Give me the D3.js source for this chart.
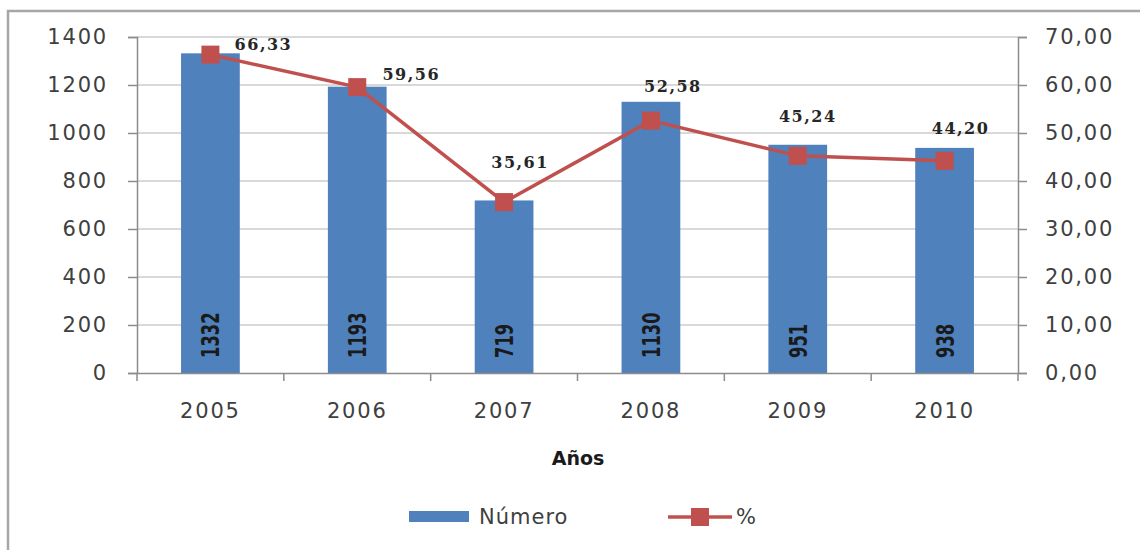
<!DOCTYPE html>
<html><head><meta charset="utf-8">
<script src="https://cdn.jsdelivr.net/npm/d3@7"></script>
<style>body{margin:0;background:#fff}svg{display:block}</style>
</head><body>
<svg id="c" width="1140" height="550"></svg>
<script>
const years = ["2005","2006","2007","2008","2009","2010"];
const numero = [1332, 1193, 719, 1130, 951, 938];
const pct = [66.33, 59.56, 35.61, 52.58, 45.24, 44.20];
const leftTicks = [0,200,400,600,800,1000,1200,1400];
const rightTicks = [0,10,20,30,40,50,60,70];
const pctLabelOffsets = [[53,-10],[54,-13],[16,-40],[22,-34],[10,-39],[16,-32]];

const svg = d3.select("#c");
const W=1140,H=550;
const m={l:137,r:1018,t:37,b:373};
const x = d3.scaleBand().domain(years).range([m.l,m.r]).paddingInner(0.6).paddingOuter(0.3);
const xc = d3.scaleBand().domain(years).range([m.l,m.r]);
const yL = d3.scaleLinear().domain([0,1400]).range([m.b,m.t]);
const yR = d3.scaleLinear().domain([0,70]).range([m.b,m.t]);
const fmt = v => d3.format(".2f")(v).replace(".",",");

svg.append("rect").attr("x",8).attr("y",11).attr("width",W+20).attr("height",H+20)
  .attr("fill","#fff").attr("stroke","#a6a6a6").attr("stroke-width",2.5);

// gridlines
svg.append("g").selectAll("line").data(leftTicks.filter(d=>d>0)).join("line")
  .attr("x1",m.l).attr("x2",m.r).attr("y1",d=>yL(d)).attr("y2",d=>yL(d))
  .attr("stroke","#d9d9d9").attr("stroke-width",2);

// left axis
const gl = svg.append("g").attr("transform",`translate(${m.l},0)`)
  .call(d3.axisLeft(yL).tickValues(leftTicks).tickSize(9).tickPadding(20).tickFormat(d3.format("d")));
gl.select(".domain").attr("stroke","#8c8c8c").attr("stroke-width",1.5);
gl.selectAll(".tick line").attr("stroke","#8c8c8c").attr("stroke-width",1.5);
gl.selectAll("text").attr("font-family","DejaVu Sans").attr("font-size",21).attr("letter-spacing","1.8px").attr("fill","#404040");

// right axis
const gr = svg.append("g").attr("transform",`translate(${m.r},0)`)
  .call(d3.axisRight(yR).tickValues(rightTicks).tickSize(9).tickPadding(18).tickFormat(fmt));
gr.select(".domain").attr("stroke","#8c8c8c").attr("stroke-width",1.5);
gr.selectAll(".tick line").attr("stroke","#8c8c8c").attr("stroke-width",1.5);
gr.selectAll("text").attr("font-family","DejaVu Sans").attr("font-size",21).attr("letter-spacing","1.8px").attr("fill","#404040");

// bars
svg.append("g").selectAll("rect").data(years).join("rect")
  .attr("x",d=>x(d)).attr("width",x.bandwidth())
  .attr("y",(d,i)=>yL(numero[i])).attr("height",(d,i)=>yL(0)-yL(numero[i]))
  .attr("fill","#4f81bd");

// bottom axis
const gb = svg.append("g").attr("transform",`translate(0,${m.b})`)
  .call(d3.axisBottom(xc).tickSize(0).tickPadding(30));
gb.select(".domain").attr("stroke","#8c8c8c").attr("stroke-width",1.5);
gb.selectAll("text").attr("font-family","DejaVu Sans").attr("font-size",21).attr("letter-spacing","1.8px").attr("fill","#404040");
svg.append("g").selectAll("line").data(d3.range(years.length+1)).join("line")
  .attr("x1",i=>m.l+i*xc.step()).attr("x2",i=>m.l+i*xc.step())
  .attr("y1",m.b).attr("y2",m.b+8).attr("stroke","#8c8c8c").attr("stroke-width",1.5);

// bar labels
svg.append("g").selectAll("text").data(years).join("text")
  .attr("transform",(d,i)=>`translate(${x(d)+x.bandwidth()/2+9},${m.b-15}) rotate(-90) scale(0.76,1)`)
  .attr("font-family","DejaVu Sans Condensed, DejaVu Sans, sans-serif")
  .attr("font-weight","bold").attr("font-size",24).attr("fill","#1a1a1a")
  .text((d,i)=>numero[i]);

// line
const cx = d=>xc(d)+xc.bandwidth()/2;
svg.append("path").datum(years)
  .attr("d",d3.line().x(cx).y((d,i)=>yR(pct[i])))
  .attr("fill","none").attr("stroke","#c0504d").attr("stroke-width",3.5);
svg.append("g").selectAll("rect").data(years).join("rect")
  .attr("x",d=>cx(d)-9).attr("y",(d,i)=>yR(pct[i])-9).attr("width",18).attr("height",18)
  .attr("fill","#c0504d");
svg.append("g").selectAll("text").data(years).join("text")
  .attr("x",(d,i)=>cx(d)+pctLabelOffsets[i][0]).attr("y",(d,i)=>yR(pct[i])+pctLabelOffsets[i][1])
  .attr("text-anchor","middle").attr("dy","0.35em")
  .attr("font-family","DejaVu Serif").attr("font-weight","bold").attr("font-size",16)
  .attr("letter-spacing","1.5px").attr("fill","#262626")
  .text((d,i)=>fmt(pct[i]));

// axis title
svg.append("text").attr("x",578).attr("y",458).attr("dy","0.35em").attr("text-anchor","middle")
  .attr("font-family","DejaVu Sans").attr("font-weight","bold").attr("font-size",19).attr("fill","#1a1a1a").text("Años");

// legend
svg.append("rect").attr("x",409).attr("y",511).attr("width",60).attr("height",11).attr("fill","#4f81bd");
svg.append("text").attr("x",479).attr("y",517).attr("dy","0.35em").attr("font-family","DejaVu Sans")
  .attr("font-size",21).attr("letter-spacing","1px").attr("fill","#404040").text("Número");
svg.append("line").attr("x1",668).attr("x2",732).attr("y1",517).attr("y2",517).attr("stroke","#c0504d").attr("stroke-width",3.5);
svg.append("rect").attr("x",691).attr("y",508).attr("width",18).attr("height",18).attr("fill","#c0504d");
svg.append("text").attr("x",736).attr("y",517).attr("dy","0.35em").attr("font-family","DejaVu Sans")
  .attr("font-size",21).attr("fill","#404040").text("%");
</script>
</body></html>
